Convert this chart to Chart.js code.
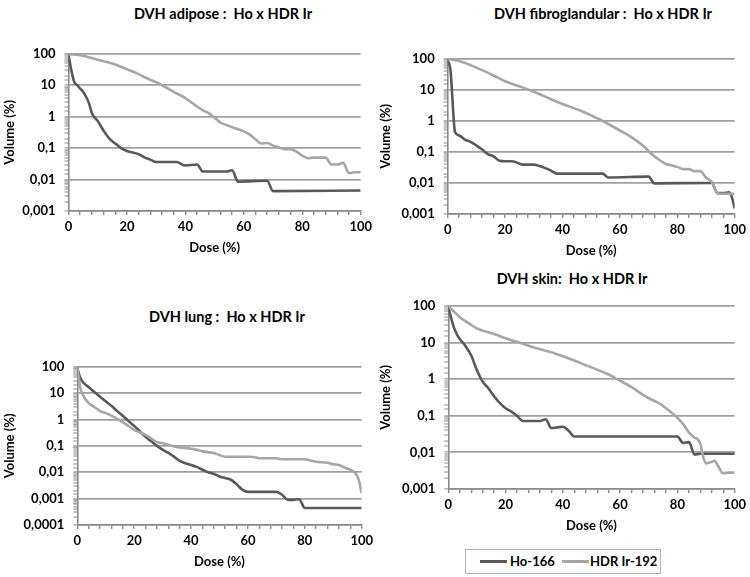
<!DOCTYPE html>
<html>
<head>
<meta charset="utf-8">
<script src="https://cdn.jsdelivr.net/npm/chart.js@4.4.0/dist/chart.umd.min.js"></script>
<style>
  body { margin: 0; background: #fff; }
  #page { position: relative; width: 750px; height: 577px; overflow: hidden; background: #fff; }
  canvas { position: absolute; }
  .title {
    position: absolute; transform: translate(-50%, -50%);
    font: bold 14.5px Lato, sans-serif; color: #000; white-space: pre;
  }
  #legend {
    position: absolute; left: 465px; top: 549px; width: 194px; height: 23px;
    border: 1px solid #a9b3c0; box-sizing: content-box;
    font: bold 13px Lato, sans-serif; color: #000;
  }
  #legend .sw { position: absolute; top: 10px; height: 3px; width: 27px; }
  #legend .lb { position: absolute; top: 3px; white-space: pre; }
</style>
</head>
<body>
<div id="page">
  <div class="title" style="left:223px; top:13px;">DVH adipose :  Ho x HDR Ir</div>
  <div class="title" style="left:603px; top:13px;">DVH fibroglandular :  Ho x HDR Ir</div>
  <div class="title" style="left:227px; top:316px;">DVH lung :  Ho x HDR Ir</div>
  <div class="title" style="left:572px; top:278px;">DVH skin:  Ho x HDR Ir</div>

  <canvas id="adipose" width="375" height="219" style="left:1px; top:37px;"></canvas>
  <canvas id="fibro" width="373" height="217" style="left:377px; top:42px;"></canvas>
  <canvas id="lung" width="376" height="220" style="left:1px; top:350px;"></canvas>
  <canvas id="skin" width="373" height="245" style="left:377px; top:289px;"></canvas>

  <div id="legend">
    <span class="sw" style="left:14px; background:#595959;"></span>
    <span class="lb" style="left:44px;">Ho-166</span>
    <span class="sw" style="left:96px; background:#a6a6a6;"></span>
    <span class="lb" style="left:124px;">HDR Ir-192</span>
  </div>
</div>

<script>
// ---- data (dose %, volume %) ----
const adiposeHoDose = [0, 1, 2, 3, 4, 5, 6, 7, 8, 9, 10, 12, 14, 16, 18, 20, 24, 26, 28, 30, 37, 40, 44, 46, 54, 56, 58, 68, 70, 100];
const adiposeHoVol = [90, 29, 12.5, 10, 7.8, 6.2, 4.3, 2.7, 1.3, 0.93, 0.73, 0.36, 0.2, 0.14, 0.1, 0.081, 0.064, 0.051, 0.043, 0.036, 0.036, 0.028, 0.03, 0.018, 0.018, 0.0197, 0.0086, 0.0092, 0.0043, 0.0045];
const adiposeIrDose = [0, 4, 10, 16, 20, 24, 26, 30, 32, 36, 40, 44, 46, 48, 50, 52, 54, 56, 58, 60, 62, 64, 66, 68, 70, 72, 74, 76, 78, 80, 82, 84, 86, 88, 90, 92, 94, 96, 98, 100];
const adiposeIrVol = [97, 90, 65, 46, 32, 22.5, 18, 12.5, 10, 6.2, 3.9, 2.1, 1.6, 1.3, 0.93, 0.65, 0.55, 0.46, 0.4, 0.34, 0.27, 0.19, 0.14, 0.145, 0.12, 0.105, 0.093, 0.093, 0.077, 0.058, 0.048, 0.05, 0.05, 0.05, 0.03, 0.03, 0.034, 0.016, 0.017, 0.017];

const fibroHoDose = [0, 1, 2, 2.5, 4, 6, 8, 10, 12, 14, 16, 18, 20, 22, 24, 26, 30, 32, 34, 36, 38, 54, 56, 70, 72, 92, 94, 96, 98, 99, 100];
const fibroHoVol = [90, 40, 1.5, 0.45, 0.34, 0.25, 0.21, 0.16, 0.12, 0.085, 0.072, 0.052, 0.05, 0.05, 0.046, 0.039, 0.039, 0.035, 0.03, 0.025, 0.02, 0.02, 0.015, 0.016, 0.0097, 0.01, 0.0047, 0.0047, 0.005, 0.0035, 0.0015];
const fibroIrDose = [0, 4, 10, 16, 20, 26, 30, 36, 40, 46, 50, 54, 56, 60, 64, 68, 70, 72, 74, 76, 78, 80, 82, 84, 86, 88, 90, 92, 94, 96, 100];
const fibroIrVol = [100, 85, 52, 29, 19, 12, 8.7, 5, 3.5, 2.2, 1.5, 1, 0.79, 0.49, 0.3, 0.16, 0.107, 0.072, 0.053, 0.041, 0.037, 0.033, 0.028, 0.028, 0.024, 0.024, 0.015, 0.0107, 0.0047, 0.0045, 0.0045];

const lungHoDose = [0, 1, 2, 4, 6, 8, 10, 12, 14, 16, 18, 20, 22, 24, 26, 28, 30, 32, 34, 36, 38, 40, 42, 44, 46, 48, 50, 52, 54, 56, 58, 60, 70, 72, 74, 76, 78, 80, 100];
const lungHoVol = [92, 39, 26, 17, 11, 7.3, 4.9, 3.3, 2.1, 1.4, 0.87, 0.57, 0.36, 0.22, 0.15, 0.1, 0.072, 0.054, 0.039, 0.027, 0.022, 0.019, 0.016, 0.0125, 0.01, 0.0087, 0.0069, 0.006, 0.0052, 0.0035, 0.0022, 0.0018, 0.0018, 0.0014, 0.0009, 0.0009, 0.00095, 0.00044, 0.00044];
const lungIrDose = [0, 1, 2, 4, 6, 8, 10, 12, 14, 16, 18, 20, 22, 24, 26, 28, 30, 32, 34, 36, 40, 42, 44, 48, 50, 52, 60, 62, 64, 70, 72, 80, 82, 84, 88, 90, 92, 94, 96, 98, 99, 100];
const lungIrVol = [100, 17, 8.4, 4.2, 3, 2.1, 1.75, 1.4, 1.06, 0.8, 0.57, 0.4, 0.33, 0.26, 0.19, 0.14, 0.125, 0.11, 0.095, 0.087, 0.078, 0.072, 0.062, 0.054, 0.045, 0.039, 0.039, 0.038, 0.034, 0.034, 0.031, 0.031, 0.028, 0.025, 0.023, 0.02, 0.019, 0.015, 0.0125, 0.0087, 0.005, 0.0016];

const skinHoDose = [0, 1, 2, 3, 4, 6, 8, 10, 12, 14, 16, 18, 20, 22, 24, 26, 32, 34, 36, 38, 40, 42, 44, 80, 82, 84, 86, 88, 100];
const skinHoVol = [94, 46, 25, 16.7, 12.5, 8, 4.4, 1.74, 0.85, 0.56, 0.34, 0.22, 0.16, 0.13, 0.1, 0.072, 0.072, 0.08, 0.046, 0.048, 0.05, 0.039, 0.027, 0.027, 0.018, 0.019, 0.0087, 0.0092, 0.0092];
const skinIrDose = [0, 2, 4, 6, 8, 10, 12, 16, 20, 24, 30, 36, 40, 44, 48, 52, 56, 58, 60, 64, 68, 70, 74, 76, 78, 80, 82, 84, 86, 87, 88, 89, 90, 92, 93, 94, 96, 98, 100];
const skinIrVol = [100, 69, 49, 38, 30, 24, 21, 17, 13, 10.4, 7.3, 5.4, 4.2, 3.2, 2.4, 1.8, 1.33, 1.1, 0.9, 0.6, 0.37, 0.3, 0.21, 0.16, 0.12, 0.088, 0.059, 0.035, 0.025, 0.023, 0.017, 0.0075, 0.005, 0.0055, 0.0059, 0.0045, 0.0027, 0.0028, 0.0028];

const seriesNames = ['Ho-166', 'HDR Ir-192'];
const xTickLabels = [0, 20, 40, 60, 80, 100];

const HO_COLOR = '#595959';
const IR_COLOR = '#a6a6a6';
const GRID_COLOR = '#a0a0a0';
const AXIS_COLOR = '#8a8a8a';
const FONT = 'Lato';

function isDecade(v) {
  const l = Math.log10(v);
  return Math.abs(l - Math.round(l)) < 1e-6;
}

// decimal comma like the original
function fmtVol(v) {
  return String(Number(v.toPrecision(1))).replace('.', ',');
}

function points(dose, vol) {
  return dose.map((d, i) => ({ x: d, y: vol[i] }));
}

function makePanel(canvasId, hoDose, hoVol, irDose, irVol, yMin, yWidth, padRight) {
  const ctx = document.getElementById(canvasId).getContext('2d');
  const tickFont = { family: FONT, weight: 'bold', size: 13 };
  const titleFont = { family: FONT, weight: 'bold', size: 13 };

  return new Chart(ctx, {
    type: 'line',
    data: {
      datasets: [
        {
          label: seriesNames[0],
          data: points(hoDose, hoVol),
          borderColor: HO_COLOR,
          borderWidth: 2.6,
          pointRadius: 0,
          cubicInterpolationMode: 'monotone',
          order: 2,
        },
        {
          label: seriesNames[1],
          data: points(irDose, irVol),
          borderColor: IR_COLOR,
          borderWidth: 2.6,
          pointRadius: 0,
          cubicInterpolationMode: 'monotone',
          order: 1,
        },
      ],
    },
    options: {
      responsive: false,
      animation: false,
      layout: { padding: { top: 12, right: padRight, left: 0, bottom: 0 } },
      plugins: { legend: { display: false }, tooltip: { enabled: false } },
      scales: {
        x: {
          type: 'linear',
          min: 0,
          max: 100,
          afterFit: (s) => { s.height = 45; },
          border: { color: AXIS_COLOR, width: 1.6 },
          grid: { display: true, drawOnChartArea: false, drawTicks: true, color: AXIS_COLOR, lineWidth: 1.4, tickLength: 4 },
          ticks: {
            stepSize: 4,
            autoSkip: false,
            maxRotation: 0,
            padding: 4,
            color: '#000',
            font: tickFont,
            callback: (v) => (xTickLabels.includes(v) ? String(v) : ''),
          },
          title: { display: true, text: 'Dose (%)', color: '#000', font: titleFont, padding: 0 },
        },
        y: {
          type: 'logarithmic',
          min: yMin,
          max: 100,
          afterFit: (s) => { s.width = yWidth; },
          border: { color: AXIS_COLOR, width: 1.6 },
          grid: {
            display: true,
            drawOnChartArea: true,
            drawTicks: true,
            color: GRID_COLOR,
            lineWidth: (c) => (c.tick && isDecade(c.tick.value) ? 1.8 : 0),
            tickColor: AXIS_COLOR,
            tickWidth: 1,
            tickLength: 4,
          },
          ticks: {
            autoSkip: false,
            padding: 9,
            color: '#000',
            font: tickFont,
            callback: (v) => (isDecade(v) ? fmtVol(v) : ''),
          },
          title: { display: true, text: 'Volume (%)', color: '#000', font: titleFont, padding: { top: 1, bottom: 0 } },
        },
      },
    },
  });
}

makePanel('adipose', adiposeHoDose, adiposeHoVol, adiposeIrDose, adiposeIrVol, 0.001, 67.5, 14);
makePanel('fibro', fibroHoDose, fibroHoVol, fibroIrDose, fibroIrVol, 0.001, 70.7, 13);
makePanel('lung', lungHoDose, lungHoVol, lungIrDose, lungIrVol, 0.0001, 76.3, 14);
makePanel('skin', skinHoDose, skinHoVol, skinIrDose, skinIrVol, 0.001, 71.3, 11.7);
</script>
</body>
</html>
